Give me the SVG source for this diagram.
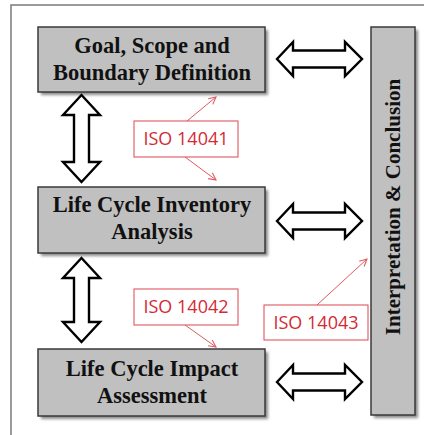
<svg xmlns="http://www.w3.org/2000/svg" width="424" height="435" viewBox="0 0 424 435">
<defs>
<style>
.box{fill:#c0c0c0;stroke:#3a3a3a;stroke-width:1.5}
.shadow{fill:#8a8a8a;filter:url(#blur)}
.t{font-family:"Liberation Serif","Times New Roman",serif;font-weight:bold;font-size:22.5px;fill:#111;text-anchor:middle}
.iso{fill:#fff;stroke:#d9474f;stroke-width:1}
.isot{font-family:"Open Sans","Liberation Sans",sans-serif;font-size:18px;fill:#d42a34;text-anchor:middle}
.arr{fill:#fff;stroke:#000;stroke-width:2.4;stroke-linejoin:miter}
.red{stroke:#e05a60;stroke-width:1;fill:none}
</style>
<filter id="blur" x="-10%" y="-10%" width="120%" height="120%"><feGaussianBlur stdDeviation="1.5"/></filter>
<marker id="rh" viewBox="0 0 10 10" refX="9" refY="5" markerWidth="9" markerHeight="9" markerUnits="userSpaceOnUse" orient="auto">
<path d="M1,1 L9,5 L1,9" fill="none" stroke="#e05a60" stroke-width="1.2"/>
</marker>
<path id="harr" d="M0,0 L16,-17 L16,-8.5 L68,-8.5 L68,-17 L85,0 L68,17 L68,8.5 L16,8.5 L16,17 Z"/>
</defs>
<rect width="424" height="435" fill="#fff"/>
<path d="M11,435 L11,5 L424,5" fill="none" stroke="#7a7a7a" stroke-width="1.5"/>

<g id="goal">
<rect class="shadow" x="41" y="30" width="227" height="65"/>
<rect class="box" x="38" y="27" width="227" height="65"/>
<text class="t" x="152" y="53">Goal, Scope and</text>
<text class="t" x="152" y="80">Boundary Definition</text>
</g>
<g id="inventory">
<rect class="shadow" x="41" y="190" width="227" height="66"/>
<rect class="box" x="38" y="187" width="227" height="66"/>
<text class="t" x="152" y="212">Life Cycle Inventory</text>
<text class="t" x="152" y="239">Analysis</text>
</g>
<g id="impact">
<rect class="shadow" x="41" y="352" width="227" height="67"/>
<rect class="box" x="38" y="349" width="227" height="67"/>
<text class="t" x="152" y="376">Life Cycle Impact</text>
<text class="t" x="152" y="403">Assessment</text>
</g>
<g id="interpretation">
<rect class="shadow" x="374" y="30" width="44" height="388"/>
<rect class="box" x="371" y="27" width="44" height="388"/>
<text class="t" style="font-size:21px" transform="translate(400,207) rotate(-90)" x="0" y="0">Interpretation &amp; Conclusion</text>
</g>

<g id="connectors">
<use href="#harr" class="arr" transform="translate(277,59)"/>
<use href="#harr" class="arr" transform="translate(277,221)"/>
<use href="#harr" class="arr" transform="translate(277,382)"/>
<path class="arr" d="M81.5,95 L100,115 L89,115 L89,162 L100,162 L81.5,182 L63,162 L74,162 L74,115 L63,115 Z"/>
<path class="arr" d="M81.5,258 L100,278 L89,278 L89,322 L100,322 L81.5,342 L63,322 L74,322 L74,278 L63,278 Z"/>
<line class="red" x1="187" y1="121" x2="216" y2="97" marker-end="url(#rh)"/>
<line class="red" x1="185" y1="157" x2="216" y2="180" marker-end="url(#rh)"/>
<line class="red" x1="185" y1="325" x2="216" y2="347" marker-end="url(#rh)"/>
<line class="red" x1="317" y1="305" x2="367" y2="259" marker-end="url(#rh)"/>
</g>

<g id="iso14041">
<rect class="iso" x="134" y="121" width="104" height="36"/>
<text class="isot" x="186" y="145">ISO 14041</text>
</g>
<g id="iso14042">
<rect class="iso" x="134" y="289" width="104" height="36"/>
<text class="isot" x="186" y="313">ISO 14042</text>
</g>
<g id="iso14043">
<rect class="iso" x="264" y="305" width="104" height="35"/>
<text class="isot" x="316" y="329">ISO 14043</text>
</g>
</svg>
